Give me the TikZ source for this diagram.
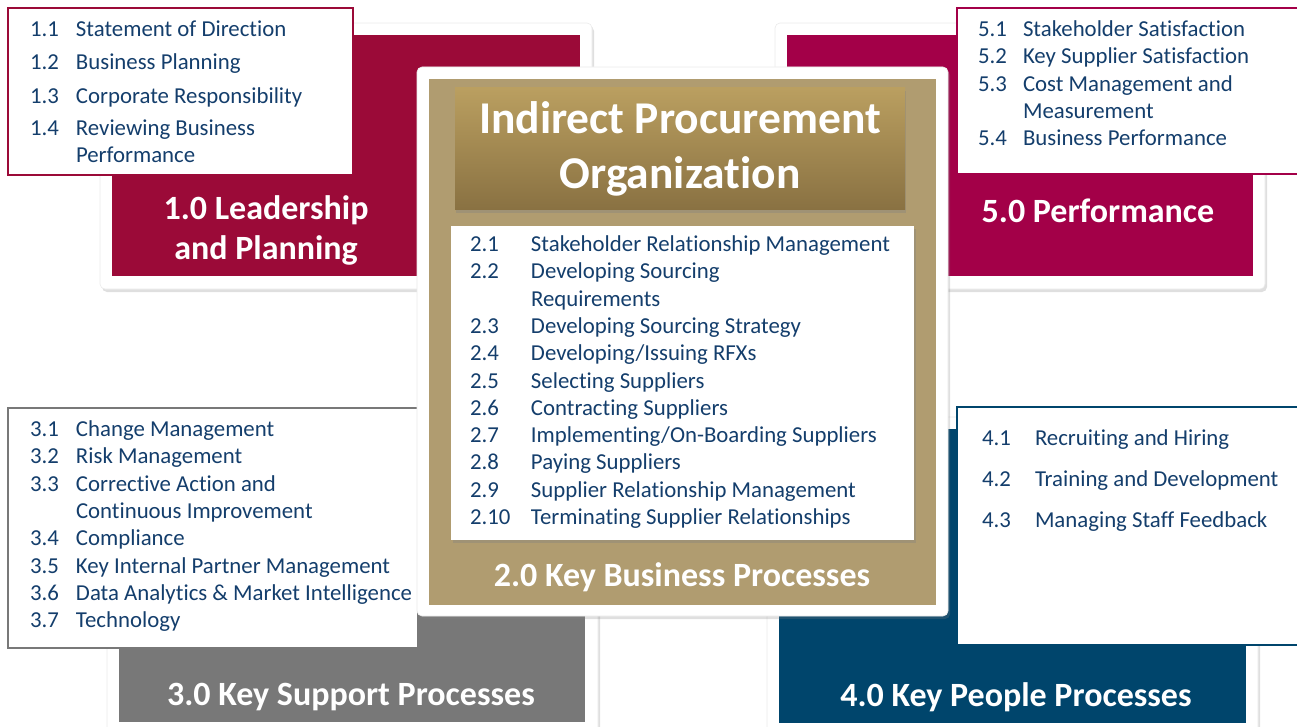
\documentclass[tikz,border=0pt]{standalone}
\usepackage{fontspec}
\setmainfont{Carlito}[Ligatures=NoCommon]
\usetikzlibrary{positioning,shadows}
\definecolor{crimson}{RGB}{155,10,56}
\definecolor{wine}{RGB}{163,0,72}
\definecolor{steel}{RGB}{120,120,120}
\definecolor{navy}{RGB}{0,69,108}
\definecolor{tan}{RGB}{176,156,112}
\definecolor{goldtop}{RGB}{186,159,96}
\definecolor{goldbot}{RGB}{137,113,66}
\definecolor{ink}{RGB}{20,62,108}

\begin{document}
\begin{tikzpicture}[x=1pt,y=-1pt,
        every node/.style = {inner sep=0pt, outer sep=0pt},
        panel/.style = {anchor=north west, fill=white, draw=black!8, line width=.6pt, rounded corners=5pt,
                        drop shadow={shadow xshift=2pt, shadow yshift=-3pt, opacity=.25}},
        fillarea/.style = {anchor=north west},
        listbox/.style = {anchor=north west, fill=white, line width=2.5pt},
        items/.style = {anchor=north west, text=ink, font=\fontsize{22.8}{27.3}\selectfont},
        heading/.style = {text=white, align=center, font=\bfseries\fontsize{34}{40}\selectfont}]
    \useasboundingbox (0,0) rectangle (1297,727);

    % 1.0 leadership
    \node[panel, minimum width=492pt, minimum height=266pt] (lp) at (100,23) {};
    \node[fillarea, fill=crimson, minimum width=468pt, minimum height=241pt,
          below right=12pt and 12pt of lp.north west] (lpf) {};
    \node[heading] (lph) at (266,230) {1.0 Leadership\\and Planning};
    \node[listbox, draw=crimson, minimum width=345pt, minimum height=167pt] (lpl) at (8,8) {};
    \node[items, below right=9.4pt and 22pt of lpl.north west] (lpi) {%
        \begin{tabular}{@{}p{46pt}@{}l@{}}
        1.1 & Statement of Direction\\[6pt]
        1.2 & Business Planning\\[6pt]
        1.3 & Corporate Responsibility\\[5pt]
        1.4 & Reviewing Business\\
            & Performance
        \end{tabular}};

    % 5.0 performance
    \node[panel, minimum width=490pt, minimum height=266pt] (pf) at (775,23) {};
    \node[fillarea, fill=wine, minimum width=466pt, minimum height=241pt,
          below right=12pt and 12pt of pf.north west] (pff) {};
    \node[heading] (pfh) at (1098,211) {5.0 Performance};
    \node[listbox, draw=wine, minimum width=350pt, minimum height=166pt] (pfl) at (957,8) {};
    \node[items, below right=9.4pt and 21pt of pfl.north west] (pfi) {%
        \begin{tabular}{@{}p{45pt}@{}l@{}}
        5.1 & Stakeholder Satisfaction\\
        5.2 & Key Supplier Satisfaction\\
        5.3 & Cost Management and\\
            & Measurement\\
        5.4 & Business Performance
        \end{tabular}};

    % 3.0 support
    \node[panel, minimum width=491pt, minimum height=330pt] (sp) at (107,420) {};
    \node[fillarea, fill=steel, minimum width=466pt, minimum height=290pt,
          below right=12pt and 12pt of sp.north west] (spf) {};
    \node[heading] (sph) at (351,697) {3.0 Key Support Processes};
    \node[listbox, draw=steel, minimum width=410pt, minimum height=240pt] (spl) at (8,408) {};
    \node[items, below right=9.4pt and 22pt of spl.north west] (spi) {%
        \begin{tabular}{@{}p{46pt}@{}l@{}}
        3.1 & Change Management\\
        3.2 & Risk Management\\
        3.3 & Corrective Action and\\
            & Continuous Improvement\\
        3.4 & Compliance\\
        3.5 & Key Internal Partner Management\\
        3.6 & Data Analytics \& Market Intelligence\\
        3.7 & Technology
        \end{tabular}};

    % 4.0 people
    \node[panel, minimum width=491pt, minimum height=330pt] (pp) at (767,417) {};
    \node[fillarea, fill=navy, minimum width=467pt, minimum height=294pt,
          below right=12pt and 12pt of pp.north west] (ppf) {};
    \node[heading] (pph) at (1016,697) {4.0 Key People Processes};
    \node[listbox, draw=navy, minimum width=350pt, minimum height=238pt] (ppl) at (957,407) {};
    \node[items, below right=19.4pt and 25pt of ppl.north west] (ppi) {%
        \begin{tabular}{@{}p{53pt}@{}l@{}}
        4.1 & Recruiting and Hiring\\[13.7pt]
        4.2 & Training and Development\\[13.7pt]
        4.3 & Managing Staff Feedback
        \end{tabular}};

    % 2.0 key business processes
    \node[panel, minimum width=531pt, minimum height=549pt] (kb) at (417,67) {};
    \node[fillarea, fill=tan, minimum width=507pt, minimum height=526pt,
          below right=12pt and 12pt of kb.north west] (kbf) {};
    \node[fillarea, top color=goldtop, bottom color=goldbot, minimum width=450pt, minimum height=122pt,
          drop shadow={shadow xshift=1pt, shadow yshift=-3pt, opacity=.35}] (ipo) at (455,88) {};
    \node[heading, font=\bfseries\fontsize{45.5}{55}\selectfont] (ipot) at (ipo.center) {Indirect Procurement\\Organization};
    \node[listbox, minimum width=463pt, minimum height=314pt,
          drop shadow={shadow xshift=2pt, shadow yshift=-3pt, opacity=.35}] (kbl) at (451,226) {};
    \node[items, below right=6.4pt and 19pt of kbl.north west] (kbi) {%
        \begin{tabular}{@{}p{61pt}@{}l@{}}
        2.1 & Stakeholder Relationship Management\\
        2.2 & Developing Sourcing\\
            & Requirements\\
        2.3 & Developing Sourcing Strategy\\
        2.4 & Developing/Issuing RFXs\\
        2.5 & Selecting Suppliers\\
        2.6 & Contracting Suppliers\\
        2.7 & Implementing/On-Boarding Suppliers\\
        2.8 & Paying Suppliers\\
        2.9 & Supplier Relationship Management\\
        2.10 & Terminating Supplier Relationships
        \end{tabular}};
    \node[heading] (kbh) at (682,577) {2.0 Key Business Processes};
\end{tikzpicture}
\end{document}
